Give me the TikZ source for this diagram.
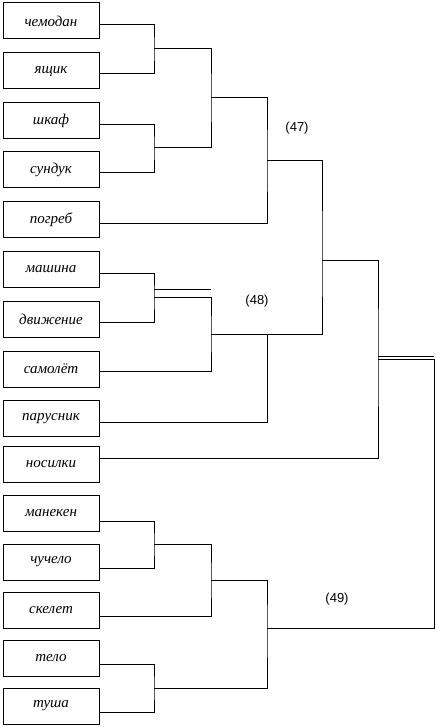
\documentclass[tikz,border=0pt]{standalone}
\usepackage{fontspec}
\setmainfont{Liberation Serif}
\newfontfamily\numfont{Liberation Sans}
\usetikzlibrary{positioning}
\tikzstyle{word box}=[draw,line width=1pt,minimum width=96pt,minimum height=36pt,inner sep=0pt,outer sep=0pt,font=\itshape\fontsize{15}{17}\selectfont]
\tikzstyle{tree edge}=[line width=1pt]
\tikzstyle{step label}=[font=\numfont\fontsize{13}{15}\selectfont]
\newcommand{\wordnode}[3][]{
  \node [word box, #1] (#2) {#3}
}

\begin{document}
\begin{tikzpicture}[x=1pt,y=-1pt]
        \useasboundingbox (0,0) rectangle (436,727);
        \wordnode[at={(51,21)}]{chemodan}{чемодан};
        \wordnode[below=14pt of chemodan]{yashchik}{ящик};
        \wordnode[below=14pt of yashchik]{shkaf}{шкаф};
        \wordnode[below=13pt of shkaf]{sunduk}{сундук};
        \wordnode[below=13.5pt of sunduk]{pogreb}{погреб};
        \wordnode[below=14pt of pogreb]{mashina}{машина};
        \wordnode[below=14pt of mashina]{dvizhenie}{движение};
        \wordnode[below=13.5pt of dvizhenie]{samolet}{самолёт};
        \wordnode[below=13.5pt of samolet]{parusnik}{парусник};
        \wordnode[below=10pt of parusnik]{nosilki}{носилки};
        \wordnode[below=13pt of nosilki]{maneken}{манекен};
        \wordnode[below=12.5pt of maneken]{chuchelo}{чучело};
        \wordnode[below=12pt of chuchelo]{skelet}{скелет};
        \wordnode[below=12pt of skelet]{telo}{тело};
        \wordnode[below=12pt of telo]{tusha}{туша};

        \coordinate (j1) at (154,49);
        \coordinate (j2) at (154,148);
        \coordinate (j3) at (211,98);
        \coordinate (j4) at (267,161);
        \coordinate (j5a) at (154,289);
        \coordinate (j5) at (154,297);
        \coordinate (j6) at (211,334);
        \coordinate (j7) at (267,334);
        \coordinate (j8) at (322,260);
        \coordinate (j9) at (378,356);
        \coordinate (j9b) at (378,359);
        \coordinate (j10) at (154,544);
        \coordinate (j11) at (211,580);
        \coordinate (j12) at (267,628);
        \coordinate (j14) at (154,688);
        \coordinate (root) at (434,628);

            \draw[tree edge] ([yshift=-4pt]chemodan.east) -| (j1) |- ([yshift=-3pt]yashchik.east);
            \draw[tree edge] ([yshift=-4pt]shkaf.east) -| (j2) |- ([yshift=-3pt]sunduk.east);
            \draw[tree edge] (j1) -| (j3) |- (j2);
            \draw[tree edge] (j3) -| (j4) |- ([yshift=-3.5pt]pogreb.east);

            \draw[tree edge] ([yshift=-3.5pt]mashina.east) -| (j5) |- ([yshift=-2.5pt]dvizhenie.east);
            \draw[tree edge] (j5a) -- (j5a -| j6);
            \draw[tree edge] (j5) -| (j6) |- ([yshift=-2pt]samolet.east);
            \draw[tree edge] (j6) -- (j7) |- ([yshift=-3.5pt]parusnik.east);
            \draw[tree edge] (j4) -| (j8) |- (j7);
            \draw[tree edge] (j8) -| (j9) |- ([yshift=6.5pt]nosilki.east);
            \draw[tree edge] (j9) -- (j9 -| root);

            \draw[tree edge] ([yshift=-7.5pt]maneken.east) -| (j10) |- ([yshift=-6pt]chuchelo.east);
            \draw[tree edge] (j10) -| (j11) |- ([yshift=-6pt]skelet.east);
            \draw[tree edge] ([yshift=-6pt]telo.east) -| (j14) |- ([yshift=-6pt]tusha.east);
            \draw[tree edge] (j11) -| (j12) |- (j14);
            \draw[tree edge] (j9b) -| (root) -- (j12);

        \node[step label] (n47) at (297,128) {(47)};
        \node[step label] (n48) at (257,301) {(48)};
        \node[step label] (n49) at (337,599) {(49)};
\end{tikzpicture}
\end{document}
